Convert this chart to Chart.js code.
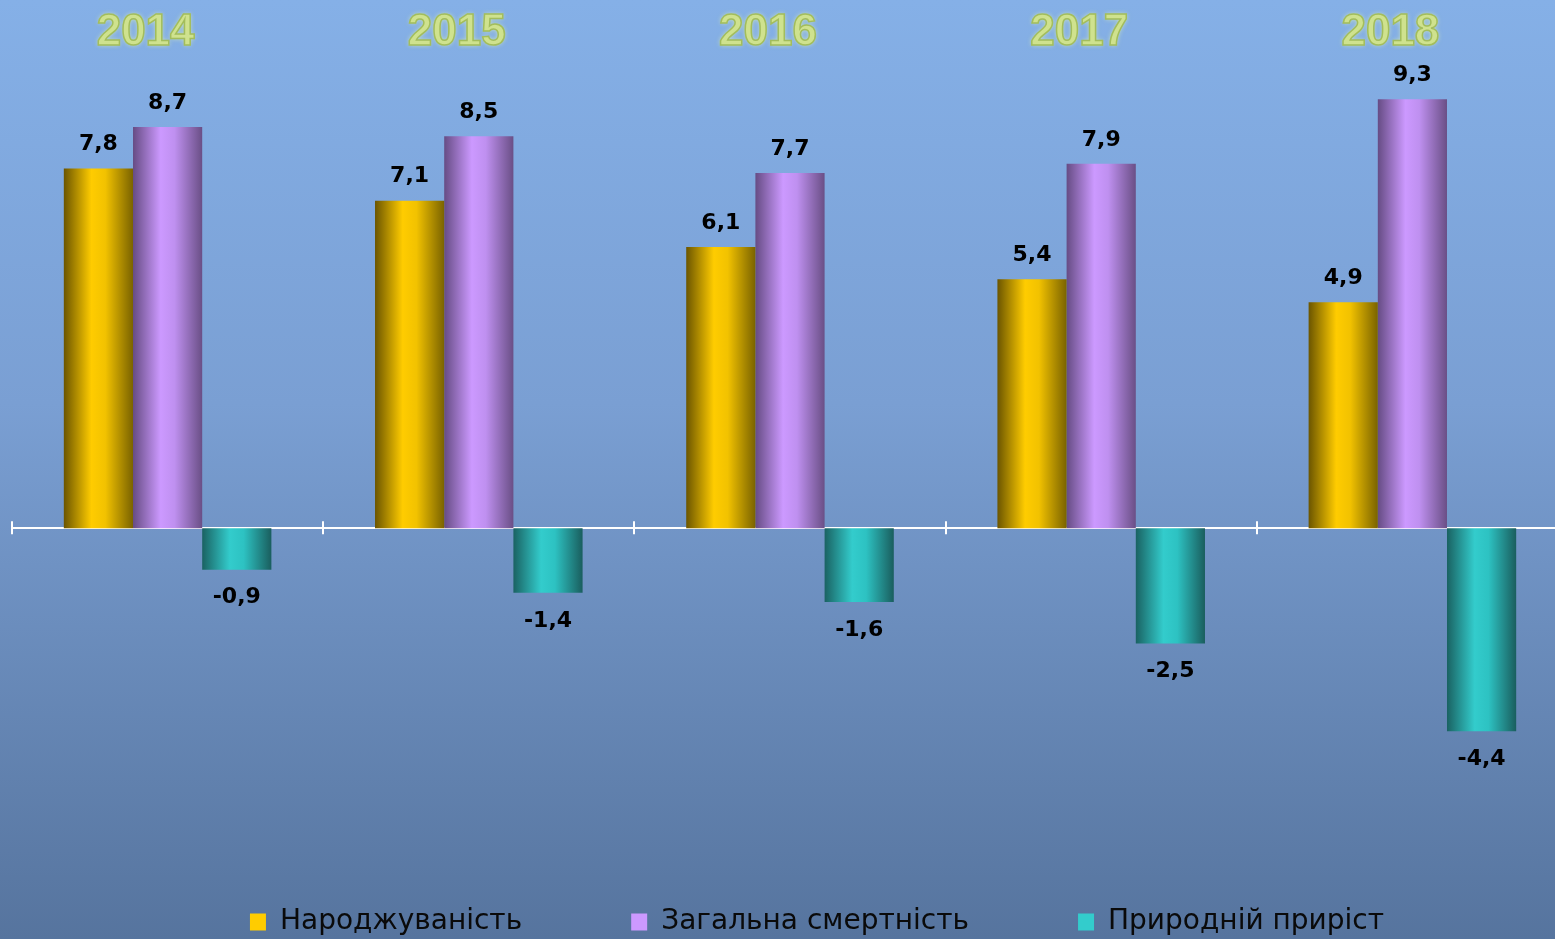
<!DOCTYPE html>
<html>
<head>
<meta charset="utf-8">
<script src="https://cdn.jsdelivr.net/npm/chart.js@4.4.1/dist/chart.umd.min.js"></script>
<style>
    html, body { margin: 0; padding: 0; overflow: hidden; background: #56749e; }
    #wrap { position: relative; width: 1634px; height: 946px; }
</style>
</head>
<body>
<div id="wrap"><canvas id="chart"></canvas></div>
<script>
const years = ['2014', '2015', '2016', '2017', '2018'];
const seriesNames = ['Народжуваність', 'Загальна смертність', 'Природній приріст'];
const births = [7.8, 7.1, 6.1, 5.4, 4.9];
const deaths = [8.7, 8.5, 7.7, 7.9, 9.3];
const naturalGrowth = [-0.9, -1.4, -1.6, -2.5, -4.4];

const CAT_PCT = 0.667;

// cylinder-like shading: dark edge, bright middle, dark edge
const GOLD = ['#6b5500', '#ffcc00', '#f2c200', '#7a6300'];
const VIOLET = ['#664c84', '#cc99ff', '#bf90f0', '#6a4f86'];
const TEAL = ['#1a6262', '#33cccc', '#2dc2c2', '#1a5e5e'];
const SHADES = [GOLD, VIOLET, TEAL];

function barFill(stops) {
    return function (context) {
        const chart = context.chart;
        const xs = chart.scales.x;
        if (context.type !== 'data' || !xs || !chart.chartArea) return stops[1];
        const n = chart.data.labels.length;
        const group = (xs.width / n) * CAT_PCT;
        const barW = group / chart.data.datasets.length;
        const left = xs.getPixelForValue(context.dataIndex) - group / 2 + context.datasetIndex * barW;
        const g = chart.ctx.createLinearGradient(left, 0, left + barW, 0);
        g.addColorStop(0, stops[0]);
        g.addColorStop(0.4, stops[1]);
        g.addColorStop(0.6, stops[2]);
        g.addColorStop(1, stops[3]);
        return g;
    };
}

const background = {
    id: 'background',
    beforeDraw(chart) {
        const ctx = chart.ctx;
        const g = ctx.createLinearGradient(0, 0, 0, 939);
        g.addColorStop(0, '#85b0e7');
        g.addColorStop(0.43, '#7a9fd3');
        g.addColorStop(1, '#56749e');
        ctx.save();
        ctx.fillStyle = g;
        ctx.fillRect(0, 0, chart.width, chart.height);
        ctx.restore();
    }
};

// tick marks on the zero line between the year groups
const zeroTicks = {
    id: 'zeroTicks',
    afterDraw(chart) {
        const xs = chart.scales.x;
        const y0 = chart.scales.y.getPixelForValue(0);
        const cat = xs.width / chart.data.labels.length;
        const ctx = chart.ctx;
        ctx.save();
        ctx.strokeStyle = '#ffffff';
        ctx.lineWidth = 2;
        for (let i = 0; i <= chart.data.labels.length; i++) {
            const x = Math.round(xs.left + i * cat);
            ctx.beginPath();
            ctx.moveTo(x, y0 - 7);
            ctx.lineTo(x, y0 + 6);
            ctx.stroke();
        }
        ctx.restore();
    }
};

const yearTitles = {
    id: 'yearTitles',
    afterDraw(chart) {
        const xs = chart.scales.x;
        const ctx = chart.ctx;
        ctx.save();
        ctx.font = 'bold 44px "Liberation Sans"';
        ctx.textAlign = 'center';
        ctx.textBaseline = 'middle';
        chart.data.labels.forEach((label, i) => {
            const x = xs.getPixelForValue(i) - 22;
            ctx.shadowColor = 'rgba(240, 255, 170, 0.7)';
            ctx.shadowBlur = 5;
            ctx.fillStyle = '#cfe28e';
            ctx.fillText(label, x, 33);
            ctx.shadowBlur = 0;
            ctx.lineWidth = 1.5;
            ctx.strokeStyle = '#a3bd5c';
            ctx.strokeText(label, x, 33);
        });
        ctx.restore();
    }
};

const valueLabels = {
    id: 'valueLabels',
    afterDatasetsDraw(chart) {
        const ctx = chart.ctx;
        ctx.save();
        ctx.font = 'bold 22px "DejaVu Sans"';
        ctx.fillStyle = '#000000';
        ctx.textAlign = 'center';
        ctx.textBaseline = 'middle';
        chart.data.datasets.forEach((ds, di) => {
            chart.getDatasetMeta(di).data.forEach((bar, i) => {
                const v = ds.data[i];
                const y = v >= 0 ? bar.y - 24 : bar.y + 28;
                ctx.fillText(v.toFixed(1).replace('.', ','), bar.x, y);
            });
        });
        ctx.restore();
    }
};

const ctx = document.getElementById('chart').getContext('2d');
new Chart(ctx, {
    type: 'bar',
    data: {
        labels: years,
        datasets: [
            { label: seriesNames[0], data: births, backgroundColor: barFill(GOLD), borderWidth: 0 },
            { label: seriesNames[1], data: deaths, backgroundColor: barFill(VIOLET), borderWidth: 0 },
            { label: seriesNames[2], data: naturalGrowth, backgroundColor: barFill(TEAL), borderWidth: 0 }
        ]
    },
    options: {
        responsive: true,
        maintainAspectRatio: false,
        animation: false,
        datasets: {
            bar: { categoryPercentage: CAT_PCT, barPercentage: 1 }
        },
        layout: { padding: { top: 67, left: 0, right: 0, bottom: 0 } },
        plugins: {
            tooltip: { enabled: false },
            legend: {
                position: 'bottom',
                labels: {
                    color: '#0a0a0a',
                    boxWidth: 16,
                    boxHeight: 17,
                    padding: 109,
                    font: { size: 28, family: "'DejaVu Sans', sans-serif" },
                    generateLabels(chart) {
                        return chart.data.datasets.map((ds, i) => ({
                            text: ds.label,
                            fillStyle: SHADES[i][1],
                            strokeStyle: SHADES[i][0],
                            lineWidth: 0,
                            fontColor: '#0a0a0a',
                            hidden: !chart.isDatasetVisible(i),
                            datasetIndex: i
                        }));
                    }
                }
            }
        },
        scales: {
            x: {
                position: { y: 0 },
                grid: { display: false },
                border: { color: '#ffffff', width: 2 },
                ticks: { display: false }
            },
            y: {
                min: -5.87,
                max: 10,
                position: 'left',
                afterFit(scale) { scale.width = 12; },
                grid: { display: false },
                border: { display: false },
                ticks: { display: false }
            },
            y2: {
                type: 'linear',
                position: 'right',
                afterFit(scale) { scale.width = 66; },
                grid: { display: false },
                border: { display: false },
                ticks: { display: false }
            }
        }
    },
    plugins: [background, zeroTicks, yearTitles, valueLabels]
});
</script>
</body>
</html>
